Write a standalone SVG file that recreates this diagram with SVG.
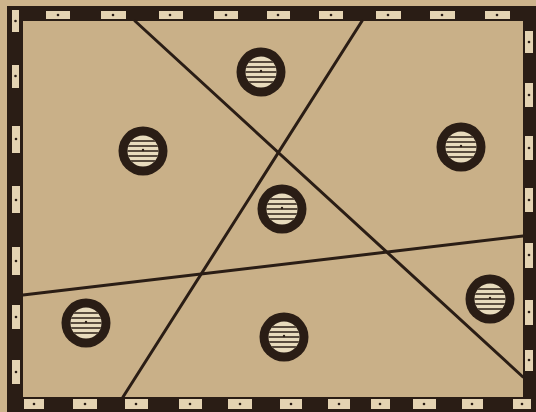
<svg xmlns="http://www.w3.org/2000/svg" width="536" height="412" viewBox="0 0 536 412">
<defs>
<style>
.ink{fill:#2a1d15}
.slot{fill:#e4d3b2}
.dot{fill:#2a1d15}
.cut{stroke:#2a1d15;stroke-width:3;fill:none;stroke-linecap:round}
.stripe{stroke:#2a1d15;stroke-width:1.7}
</style>
<clipPath id="holeClip"><circle cx="0" cy="0" r="15.5"/></clipPath>
<symbol id="hole" overflow="visible">
<circle cx="0" cy="0" r="24.5" class="ink"/>
<circle cx="0" cy="0" r="15.5" fill="#e8dbbd"/>
<g clip-path="url(#holeClip)">
<line class="stripe" x1="-17" y1="-10" x2="17" y2="-10"/>
<line class="stripe" x1="-17" y1="-5" x2="17" y2="-5"/>
<line class="stripe" x1="-17" y1="0" x2="17" y2="0"/>
<line class="stripe" x1="-17" y1="5" x2="17" y2="5"/>
<line class="stripe" x1="-17" y1="10" x2="17" y2="10"/>
</g>
<circle cx="0" cy="-1" r="1.2" class="dot"/>
</symbol>
</defs>
<rect x="0" y="0" width="536" height="412" fill="#cdb48c"/>
<g id="frame">
<rect x="7" y="6" width="529" height="406" class="ink"/>
<rect x="23" y="21" width="500" height="376" fill="#c9b088"/>
<g id="top-slots">
<rect class="slot" x="46" y="11" width="24" height="8"/><circle class="dot" cx="58" cy="15" r="1.3"/>
<rect class="slot" x="101" y="11" width="25" height="8"/><circle class="dot" cx="113" cy="15" r="1.3"/>
<rect class="slot" x="159" y="11" width="24" height="8"/><circle class="dot" cx="170" cy="15" r="1.3"/>
<rect class="slot" x="214" y="11" width="24" height="8"/><circle class="dot" cx="226" cy="15" r="1.3"/>
<rect class="slot" x="267" y="11" width="23" height="8"/><circle class="dot" cx="278" cy="15" r="1.3"/>
<rect class="slot" x="319" y="11" width="24" height="8"/><circle class="dot" cx="331" cy="15" r="1.3"/>
<rect class="slot" x="376" y="11" width="25" height="8"/><circle class="dot" cx="388" cy="15" r="1.3"/>
<rect class="slot" x="430" y="11" width="25" height="8"/><circle class="dot" cx="442" cy="15" r="1.3"/>
<rect class="slot" x="485" y="11" width="25" height="8"/><circle class="dot" cx="497" cy="15" r="1.3"/>
</g>
<g id="bottom-slots">
<rect class="slot" x="24" y="399" width="20" height="10"/><circle class="dot" cx="34" cy="404" r="1.3"/>
<rect class="slot" x="73" y="399" width="24" height="10"/><circle class="dot" cx="85" cy="404" r="1.3"/>
<rect class="slot" x="125" y="399" width="23" height="10"/><circle class="dot" cx="136" cy="404" r="1.3"/>
<rect class="slot" x="179" y="399" width="23" height="10"/><circle class="dot" cx="190" cy="404" r="1.3"/>
<rect class="slot" x="228" y="399" width="24" height="10"/><circle class="dot" cx="240" cy="404" r="1.3"/>
<rect class="slot" x="280" y="399" width="22" height="10"/><circle class="dot" cx="291" cy="404" r="1.3"/>
<rect class="slot" x="328" y="399" width="22" height="10"/><circle class="dot" cx="339" cy="404" r="1.3"/>
<rect class="slot" x="371" y="399" width="19" height="10"/><circle class="dot" cx="380" cy="404" r="1.3"/>
<rect class="slot" x="413" y="399" width="23" height="10"/><circle class="dot" cx="424" cy="404" r="1.3"/>
<rect class="slot" x="462" y="399" width="21" height="10"/><circle class="dot" cx="472" cy="404" r="1.3"/>
<rect class="slot" x="513" y="399" width="18" height="10"/><circle class="dot" cx="522" cy="404" r="1.3"/>
</g>
<g id="left-slots">
<rect class="slot" x="12" y="10" width="7" height="22"/><circle class="dot" cx="15.5" cy="21" r="1.3"/>
<rect class="slot" x="12" y="65" width="7" height="23"/><circle class="dot" cx="15.5" cy="76" r="1.3"/>
<rect class="slot" x="12" y="126" width="8" height="27"/><circle class="dot" cx="16" cy="139" r="1.3"/>
<rect class="slot" x="12" y="186" width="8" height="27"/><circle class="dot" cx="16" cy="200" r="1.3"/>
<rect class="slot" x="12" y="247" width="8" height="28"/><circle class="dot" cx="16" cy="261" r="1.3"/>
<rect class="slot" x="12" y="305" width="8" height="24"/><circle class="dot" cx="16" cy="317" r="1.3"/>
<rect class="slot" x="12" y="360" width="8" height="24"/><circle class="dot" cx="16" cy="372" r="1.3"/>
</g>
<g id="right-slots">
<rect class="slot" x="525" y="31" width="8" height="22"/><circle class="dot" cx="529" cy="42" r="1.3"/>
<rect class="slot" x="525" y="83" width="8" height="24"/><circle class="dot" cx="529" cy="95" r="1.3"/>
<rect class="slot" x="525" y="136" width="8" height="24"/><circle class="dot" cx="529" cy="148" r="1.3"/>
<rect class="slot" x="525" y="188" width="8" height="24"/><circle class="dot" cx="529" cy="200" r="1.3"/>
<rect class="slot" x="525" y="243" width="8" height="25"/><circle class="dot" cx="529" cy="255" r="1.3"/>
<rect class="slot" x="525" y="300" width="8" height="25"/><circle class="dot" cx="529" cy="312" r="1.3"/>
<rect class="slot" x="525" y="350" width="8" height="21"/><circle class="dot" cx="529" cy="360" r="1.3"/>
</g>
</g>
<g id="connectors">
<line class="cut" x1="135" y1="21" x2="523" y2="377"/>
<line class="cut" x1="362" y1="21" x2="123" y2="397"/>
<line class="cut" x1="23" y1="295" x2="523" y2="236"/>
</g>
<g id="hole1"><use href="#hole" x="261" y="72"/></g>
<g id="hole2"><use href="#hole" x="143" y="151"/></g>
<g id="hole3"><use href="#hole" x="461" y="147"/></g>
<g id="hole4"><use href="#hole" x="282" y="209"/></g>
<g id="hole5"><use href="#hole" x="86" y="323"/></g>
<g id="hole6"><use href="#hole" x="284" y="337"/></g>
<g id="hole7"><use href="#hole" x="490" y="299"/></g>
</svg>
